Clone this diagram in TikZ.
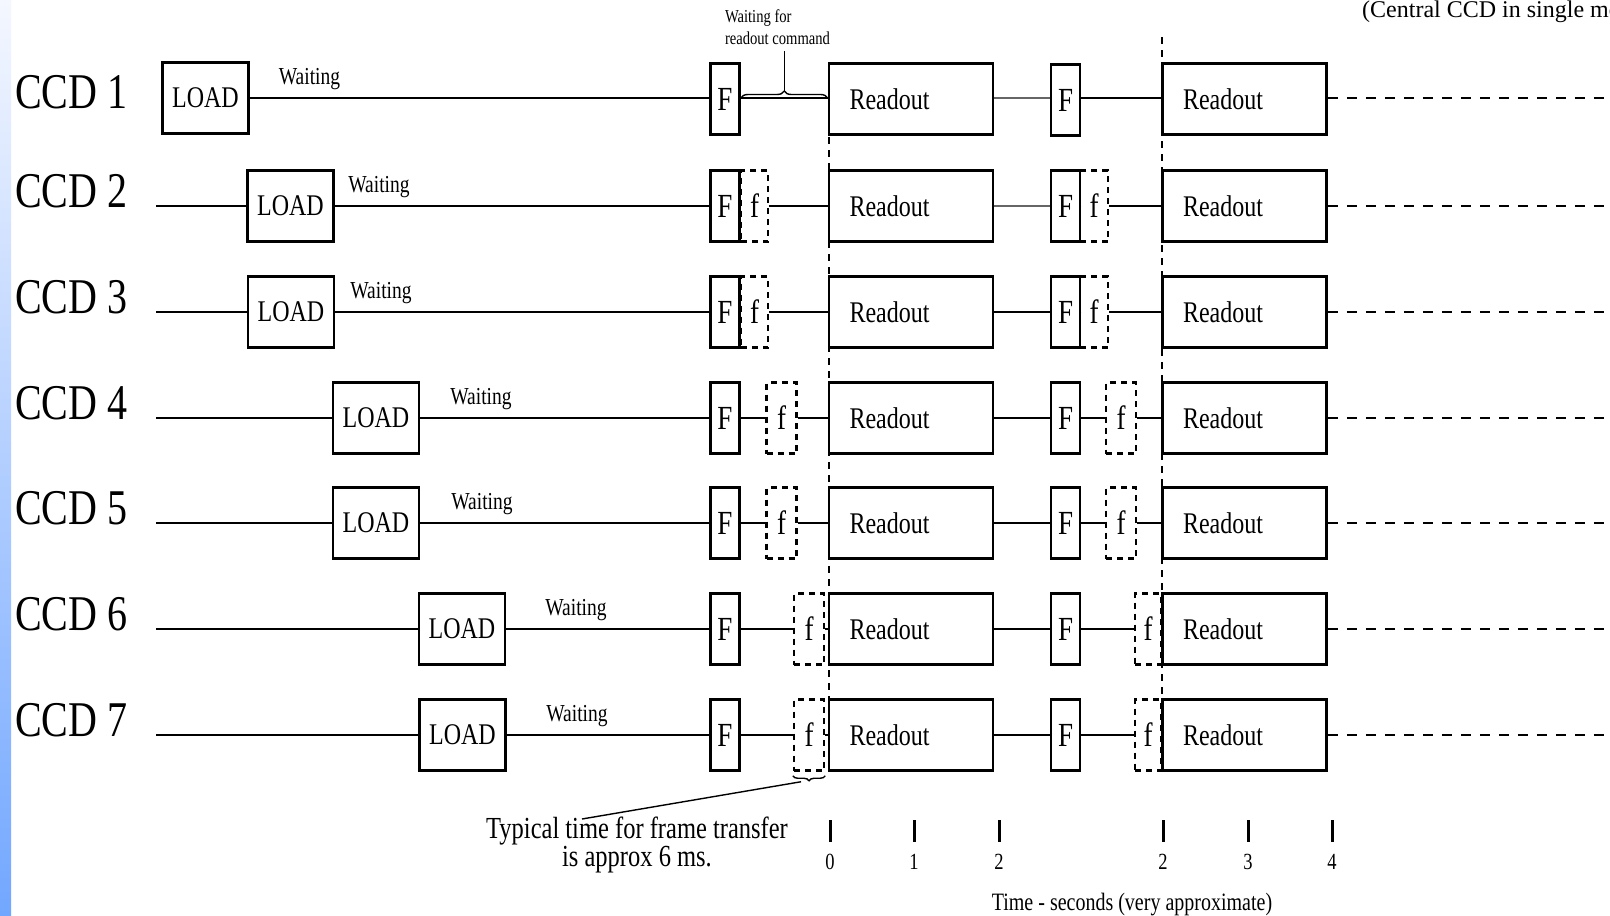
\documentclass[tikz,border=0pt]{standalone}
\usepackage{fontspec}
\setmainfont{Liberation Serif}
\usepackage{graphicx}
\usetikzlibrary{decorations.pathreplacing,calc}
\newcommand{\st}[1]{\scalebox{1}[1.25]{#1}}
\definecolor{stripTop}{HTML}{F4F7FF}
\definecolor{stripMid}{HTML}{D5E2FD}
\definecolor{stripBot}{HTML}{72A7FF}
\tikzset{
  bx/.style={draw, line width=2.8pt, inner sep=0pt, minimum height=71pt},
  loadbox/.style={bx, minimum width=86pt, font=\fontsize{24}{28}\selectfont},
  fbox/.style={bx, minimum width=29pt, font=\fontsize{27}{30}\selectfont},
  fdash/.style={draw, line width=2.5pt, dash pattern=on 6pt off 5pt, inner sep=0pt,
    minimum height=71pt, font=\fontsize{27}{30}\selectfont},
  rbox/.style={bx, minimum width=164pt, text width=123pt, align=left,
    font=\fontsize{24}{28}\selectfont},
  wire/.style={line width=2.8pt},
  dwire/.style={line width=2.8pt, dash pattern=on 10pt off 9pt},
  vdash/.style={line width=1.6pt, dash pattern=on 7pt off 6pt},
  ccd/.style={font=\fontsize{40}{44}\selectfont, anchor=base west, inner sep=0pt},
  wait/.style={font=\fontsize{19.5}{22}\selectfont, anchor=base, inner sep=0pt},
  note/.style={inner sep=0pt},
  thinl/.style={line width=1.4pt},
  tick/.style={line width=3pt},
  ticklbl/.style={font=\fontsize{18.5}{20}\selectfont, inner sep=0pt}
}
\begin{document}
\begin{tikzpicture}[x=1pt,y=-1pt]
\useasboundingbox (0,0) rectangle (1610,916);
\fill[white] (0,0) rectangle (1610,916);
\shade[top color=stripTop, middle color=stripMid, bottom color=stripBot] (0,0) rectangle (11,916);

% column guide lines (drawn first)
\coordinate (v1top) at (829,137);
\coordinate (v1bot) at (829,771);
\coordinate (v2top) at (1162,37);
\coordinate (v2bot) at (1162,771);
\draw[vdash] (v1top) -- (v1bot);
\draw[vdash] (v2top) -- (v2bot);

% ---------- row 1 ----------
\node[ccd] (C1) at (15,108) {\st{CCD 1}};
\node[loadbox] (L1) at (205.5,98) {\st{LOAD}};
\node[fbox] (F1) at (725,99) {\st{F}};
\node[rbox] (R1) at (911,99) {\st{Readout}};
\node[fbox] (G1) at (1065.5,100) {\st{F}};
\node[rbox] (S1) at (1244.5,99) {\st{Readout}};
\coordinate (e1) at (1610,98);
\node[wait] at (309.5,84.5) (W1) {\st{Waiting}};
\draw[wire] (L1.east) -- (F1.west |- L1.east);
\draw[wire] (F1.east |- L1.east) -- (R1.west |- L1.east);
\draw[thinl, draw=black!60] (R1.east |- L1.east) -- (G1.west |- L1.east);
\draw[wire] (G1.east |- L1.east) -- (S1.west |- L1.east);
\draw[dwire] (S1.east |- L1.east) -- (e1);

% ---------- rows 2..7 ----------
\foreach \i/\y/\lx/\wx/\fx/\fw/\gx/\gw/\mw/\mc in {
  2/206/290.5/379/754.5/27/1094/28/1.4/black!60,
  3/312/291/381/754.5/27/1094/28/2.8/black,
  4/418/376/481/781.5/30/1121/30/2.8/black,
  5/523/376/482/781.5/30/1121/30/2.8/black,
  6/629/462/576/809/30/1148/26/2.8/black,
  7/735/462.5/577/809/30/1148/26/2.8/black}{
  \node[ccd] (C\i) at (15,\y+1) {\st{CCD \i}};
  \coordinate (s\i) at (156,\y);
  \coordinate (e\i) at (1610,\y);
  \node[loadbox] (L\i) at (\lx,\y) {\st{LOAD}};
  \node[wait] (W\i) at (\wx,\y-13.5) {\st{Waiting}};
  \node[fbox] (F\i) at (725,\y) {\st{F}};
  \node[fdash, minimum width=\fw pt] (f\i) at (\fx,\y) {\st{f}};
  \node[rbox] (R\i) at (911,\y) {\st{Readout}};
  \node[fbox] (G\i) at (1065.5,\y) {\st{F}};
  \node[fdash, minimum width=\gw pt] (g\i) at (\gx,\y) {\st{f}};
  \node[rbox] (S\i) at (1244.5,\y) {\st{Readout}};
  \draw[wire] (s\i) -- (L\i.west) (L\i.east) -- (F\i.west)
              (F\i.east) -- (f\i.west) (f\i.east) -- (R\i.west);
  \draw[line width=\mw pt, draw=\mc] (R\i.east) -- (G\i.west);
  \draw[wire] (G\i.east) -- (g\i.west) (g\i.east) -- (S\i.west);
  \draw[dwire] (S\i.east) -- (e\i);
}

% ---------- annotation: waiting for readout command ----------
\draw[thinl, decorate, decoration={brace, amplitude=7pt}]
  (F1.east |- L1.east) -- (R1.west |- L1.east);
\coordinate (wtip) at ($(F1.east |- L1.east)!0.5!(R1.west |- L1.east)+(0,-7)$);
\node[note, font=\fontsize{14.6}{17.5}\selectfont] (WR) at (777.5,29)
  {\st{\begin{tabular}{@{}l@{}}Waiting for\\readout command\end{tabular}}};
\draw[thinl] (wtip) -- (wtip |- WR.south);

% ---------- annotation: frame transfer ----------
\draw[thinl, decorate, decoration={brace, amplitude=5pt}]
  ($(f7.south east)+(0,4)$) -- ($(f7.south west)+(0,4)$);
\coordinate (ftip) at ($(f7.south)+(-8,10)$);
\node[note, font=\fontsize{24.5}{21.6}\selectfont] (TT) at (637,846)
  {\st{\begin{tabular}{@{}c@{}}Typical time for frame transfer\\is approx 6 ms.\end{tabular}}};
\coordinate (tend) at (582,819);
\draw[thinl] (ftip) -- (tend);

% ---------- time axis ----------
\foreach \n/\x/\t in {0/830/0, 1/914/1, 2/999/2, 3/1163/2, 4/1248/3, 5/1332/4}{
  \node[ticklbl] (T\n) at (\x,862) {\st{\t}};
  \draw[tick] (\x,820) -- (\x,842);
}
\node[note, font=\fontsize{20}{24}\selectfont] (TA) at (1132,905)
  {\st{Time - seconds (very approximate)}};

% ---------- clipped heading (cut by the right edge, as in the reference) ----------
\begin{scope}
\clip (0,0) rectangle (1610,916);
\node[note, anchor=base west, font=\fontsize{24}{28}\selectfont] (HD) at (1362,17)
  {(Central CCD in single mode)};
\end{scope}
\end{tikzpicture}
\end{document}
